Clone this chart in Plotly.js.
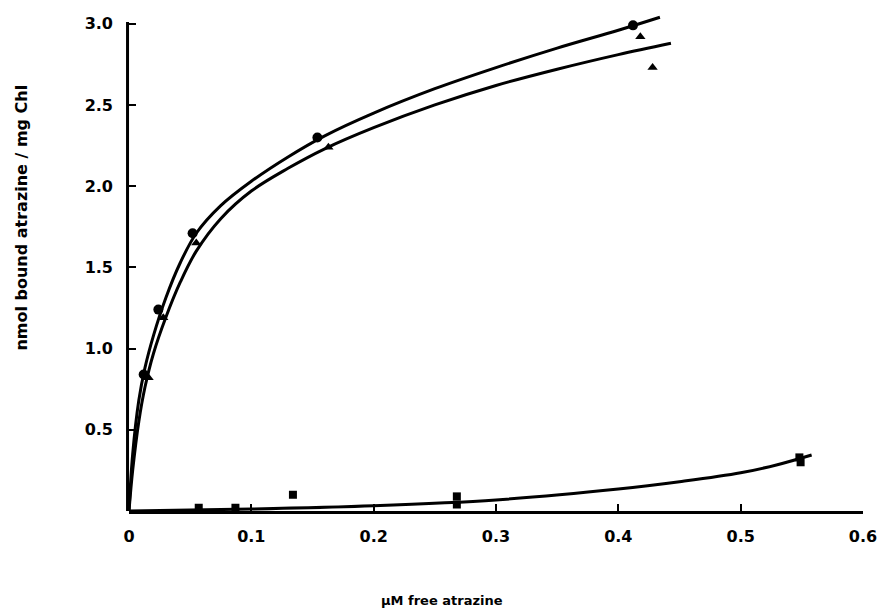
<!DOCTYPE html>
<html>
<head>
<meta charset="utf-8">
<script src="https://cdn.plot.ly/plotly-3.0.1.min.js"></script>
<style>html,body{margin:0;padding:0;background:#fff;}#chart{width:880px;height:612px;}</style>
</head>
<body>
<div id="chart"></div>
<script>
// Measured data points
const circleX = [0.012, 0.024, 0.052, 0.154, 0.412];
const circleY = [0.84, 1.24, 1.71, 2.30, 2.99];
const triX = [0.016, 0.028, 0.055, 0.163, 0.418, 0.428];
const triY = [0.82, 1.19, 1.65, 2.24, 2.92, 2.73];
const squareX = [0.057, 0.087, 0.134, 0.268, 0.268, 0.548, 0.549];
const squareY = [0.02, 0.02, 0.10, 0.09, 0.04, 0.33, 0.30];

// Fitted curves
const upperCurveX = [0, 0.003, 0.008, 0.013, 0.02, 0.03, 0.042, 0.055, 0.075, 0.1, 0.13, 0.16, 0.2, 0.25, 0.3, 0.35, 0.4, 0.434];
const upperCurveY = [0, 0.35, 0.68, 0.88, 1.08, 1.31, 1.53, 1.71, 1.88, 2.03, 2.18, 2.31, 2.45, 2.60, 2.73, 2.85, 2.96, 3.04];
const lowerCurveX = [0, 0.003, 0.008, 0.013, 0.02, 0.03, 0.042, 0.055, 0.075, 0.1, 0.13, 0.16, 0.2, 0.25, 0.3, 0.35, 0.4, 0.443];
const lowerCurveY = [0, 0.25, 0.55, 0.76, 0.97, 1.19, 1.41, 1.60, 1.80, 1.97, 2.11, 2.23, 2.36, 2.50, 2.62, 2.72, 2.81, 2.88];
const bottomCurveX = [0, 0.1, 0.2, 0.3, 0.4, 0.45, 0.5, 0.53, 0.558];
const bottomCurveY = [0, 0.012, 0.032, 0.068, 0.135, 0.18, 0.235, 0.285, 0.345];

const xTicks = [0, 0.1, 0.2, 0.3, 0.4, 0.5, 0.6];
const xTickText = ['0', '0.1', '0.2', '0.3', '0.4', '0.5', '0.6'];
const yTicks = [0.5, 1.0, 1.5, 2.0, 2.5, 3.0];
const yTickText = ['0.5', '1.0', '1.5', '2.0', '2.5', '3.0'];
const yAxisTop = 3.0;

const xTitle = 'µM free atrazine';
const yTitle = 'nmol bound atrazine / mg Chl';

const lineStyle = {color: '#000', width: 3, shape: 'spline', smoothing: 1};
const traces = [
  {x: upperCurveX, y: upperCurveY, mode: 'lines', line: lineStyle, hoverinfo: 'skip', cliponaxis: false},
  {x: lowerCurveX, y: lowerCurveY, mode: 'lines', line: lineStyle, hoverinfo: 'skip', cliponaxis: false},
  {x: bottomCurveX, y: bottomCurveY, mode: 'lines', line: lineStyle, hoverinfo: 'skip', cliponaxis: false},
  {x: circleX, y: circleY, mode: 'markers', marker: {symbol: 'circle', size: 10, color: '#000'}, cliponaxis: false},
  {x: triX, y: triY, mode: 'markers', marker: {symbol: 'triangle-up', size: 9, color: '#000'}, cliponaxis: false},
  {x: squareX, y: squareY, mode: 'markers', marker: {symbol: 'square', size: 8, color: '#000'}, cliponaxis: false}
];

const tickFont = {family: 'DejaVu Sans, Arial, sans-serif', size: 16, color: '#000', weight: 'bold'};
const layout = {
  width: 880, height: 612,
  margin: {l: 129, r: 17, t: 14, b: 101},
  paper_bgcolor: '#fff', plot_bgcolor: '#fff',
  showlegend: false,
  xaxis: {
    range: [0, 0.6], tickvals: xTicks, ticktext: xTickText,
    ticks: 'inside', ticklen: 7, tickwidth: 2, tickcolor: '#000',
    showline: true, linewidth: 3, linecolor: '#000',
    showgrid: false, zeroline: false, tickfont: tickFont, ticklabelstandoff: 9
  },
  yaxis: {
    range: [0, 3.06], tickvals: yTicks, ticktext: yTickText,
    ticks: 'inside', ticklen: 7, tickwidth: 2, tickcolor: '#000',
    showline: false,
    showgrid: false, zeroline: false, tickfont: tickFont, ticklabelstandoff: 15
  },
  shapes: [
    {type: 'line', xref: 'paper', yref: 'y', x0: -0.002, x1: -0.002, y0: -0.01, y1: yAxisTop + 0.01,
     line: {color: '#000', width: 3}}
  ],
  annotations: [
    {text: xTitle, xref: 'paper', yref: 'paper', x: 0.426, y: -0.18, xanchor: 'center', yanchor: 'middle', showarrow: false,
     font: {family: 'DejaVu Sans, Arial, sans-serif', size: 13, color: '#000', weight: 'bold'}},
    {text: yTitle, xref: 'paper', yref: 'paper', x: -0.146, y: 0.59, xanchor: 'center', yanchor: 'middle', showarrow: false, textangle: -90,
     font: {family: 'DejaVu Sans, Arial, sans-serif', size: 16, color: '#000', weight: 'bold'}}
  ]
};
Plotly.newPlot('chart', traces, layout, {displayModeBar: false, staticPlot: true});
</script>
</body>
</html>
